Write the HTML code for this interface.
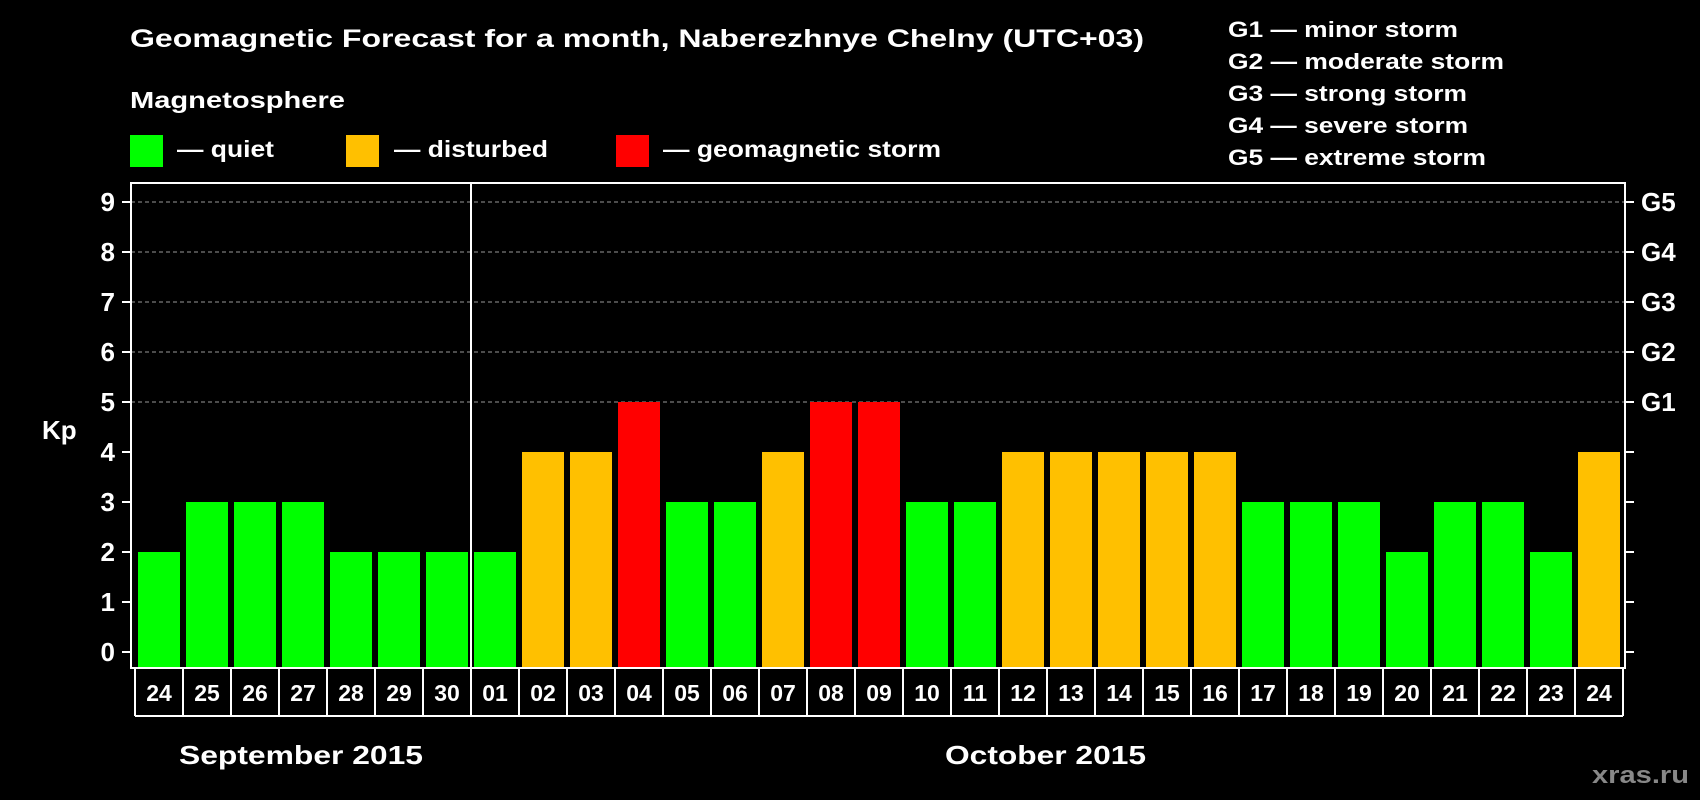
<!DOCTYPE html>
<html><head><meta charset="utf-8"><style>
html,body{margin:0;padding:0;background:#000;width:1700px;height:800px;overflow:hidden}
svg{display:block;font-family:"Liberation Sans",Arial,sans-serif;font-weight:bold}
</style></head><body>
<svg id="chart" width="1700" height="800" viewBox="0 0 1700 800">
<rect x="0" y="0" width="1700" height="800" fill="#000"/>
<text x="130" y="47" font-size="25" fill="#fff" textLength="1014" lengthAdjust="spacingAndGlyphs">Geomagnetic Forecast for a month, Naberezhnye Chelny (UTC+03)</text>
<text x="130" y="108" font-size="23" fill="#fff" textLength="215" lengthAdjust="spacingAndGlyphs">Magnetosphere</text>
<g>
<rect x="130" y="135" width="33" height="32" fill="#00ff00"/>
<text x="177" y="157" font-size="23" fill="#fff" textLength="97" lengthAdjust="spacingAndGlyphs">— quiet</text>
<rect x="346" y="135" width="33" height="32" fill="#ffc000"/>
<text x="394" y="157" font-size="23" fill="#fff" textLength="154" lengthAdjust="spacingAndGlyphs">— disturbed</text>
<rect x="616" y="135" width="33" height="32" fill="#ff0000"/>
<text x="663" y="157" font-size="23" fill="#fff" textLength="278" lengthAdjust="spacingAndGlyphs">— geomagnetic storm</text>
</g>
<g font-size="22" fill="#fff">
<text x="1228" y="37" textLength="230" lengthAdjust="spacingAndGlyphs">G1 — minor storm</text>
<text x="1228" y="69" textLength="276" lengthAdjust="spacingAndGlyphs">G2 — moderate storm</text>
<text x="1228" y="101" textLength="239" lengthAdjust="spacingAndGlyphs">G3 — strong storm</text>
<text x="1228" y="133" textLength="240" lengthAdjust="spacingAndGlyphs">G4 — severe storm</text>
<text x="1228" y="165" textLength="258" lengthAdjust="spacingAndGlyphs">G5 — extreme storm</text>
</g>
<text x="42" y="439" font-size="26" fill="#fff">Kp</text>
<text x="179" y="764" font-size="26" fill="#fff" textLength="244" lengthAdjust="spacingAndGlyphs">September 2015</text>
<text x="945" y="764" font-size="26" fill="#fff" textLength="201" lengthAdjust="spacingAndGlyphs">October 2015</text>
<text x="1592" y="783" font-size="24" fill="#888" textLength="97" lengthAdjust="spacingAndGlyphs">xras.ru</text>
<g id="plot"></g>
</svg>
<script>
const days = ["24","25","26","27","28","29","30","01","02","03","04","05","06","07","08","09","10","11","12","13","14","15","16","17","18","19","20","21","22","23","24"];
const kpValues = [2,3,3,3,2,2,2,2,4,4,5,3,3,4,5,5,3,3,4,4,4,4,4,3,3,3,2,3,3,2,4];
const yTicks = [0,1,2,3,4,5,6,7,8,9];
const gLabels = ["G1","G2","G3","G4","G5"];
const gLevels = [5,6,7,8,9];
const monthSplitIndex = 7;

const NS = "http://www.w3.org/2000/svg";
const plot = document.getElementById("plot");
const L = 131, R = 1625, T = 183, B = 668;
const firstBar = 138, pitch = 48, barW = 42;
const y = v => 652 - 50 * v;
const x = i => firstBar + pitch * i;
function mk(tag, attrs) { const e = document.createElementNS(NS, tag); for (const k in attrs) e.setAttribute(k, attrs[k]); plot.appendChild(e); return e; }
function color(v) { return v >= 5 ? "#ff0000" : v >= 4 ? "#ffc000" : "#00ff00"; }

// gridlines
gLevels.forEach(v => {
  const g = mk("line", {x1: L, x2: R, y1: y(v), y2: y(v), stroke: "#999", "stroke-width": 1, "stroke-dasharray": "4,3"});
  
  
});
// bars
kpValues.forEach((v, i) => {
  const b = mk("rect", {x: x(i), y: y(v), width: barW, height: B - y(v), fill: color(v)});
  
  
});
// frame
const fr = mk("rect", {x: L, y: T, width: R - L, height: B - T, fill: "none", stroke: "#fff", "stroke-width": 2});


const div = mk("line", {x1: x(monthSplitIndex) - 3, x2: x(monthSplitIndex) - 3, y1: T, y2: B, stroke: "#fff", "stroke-width": 2});


// y ticks
yTicks.forEach(v => {
  const t1 = mk("line", {x1: 122, x2: L, y1: y(v), y2: y(v), stroke: "#fff", "stroke-width": 2});
  
  
  const t2 = mk("line", {x1: R, x2: 1634, y1: y(v), y2: y(v), stroke: "#fff", "stroke-width": 2});
  
  
  const lb = mk("text", {x: 115, y: y(v) + 9, "text-anchor": "end", "font-size": 26, fill: "#fff"});
  lb.textContent = v;
  
  
});
gLabels.forEach((g, i) => {
  const lb = mk("text", {x: 1641, y: y(gLevels[i]) + 9, "font-size": 26, fill: "#fff"});
  lb.textContent = g;
  
  
});
// date cells
const cellTop = 669, cellBot = 716;
const dl = mk("line", {x1: 135, x2: 1623, y1: cellBot, y2: cellBot, stroke: "#fff", "stroke-width": 2});


days.forEach((d, i) => {
  const left = i === 0 ? 135 : x(i) - 3;
  const sep = mk("line", {x1: left, x2: left, y1: cellTop, y2: cellBot, stroke: "#fff", "stroke-width": 2});
  
  
  const t = mk("text", {x: x(i) + barW / 2, y: 701, "text-anchor": "middle", "font-size": 23, fill: "#fff"});
  t.textContent = d;
  
  
});
const endSep = mk("line", {x1: 1623, x2: 1623, y1: cellTop, y2: cellBot, stroke: "#fff", "stroke-width": 2});


</script>
</body></html>
